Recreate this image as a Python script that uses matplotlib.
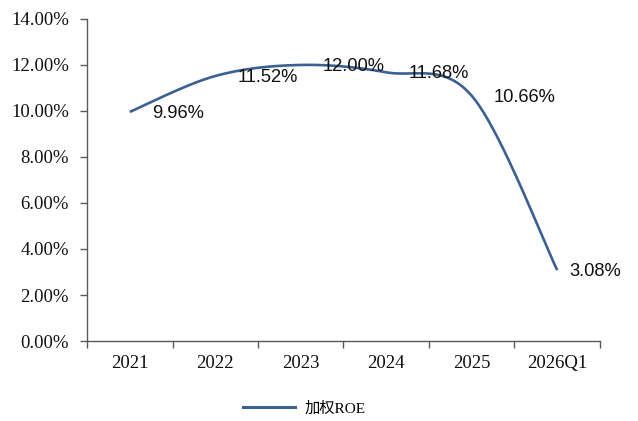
import numpy as np
import matplotlib
matplotlib.use("Agg")
import matplotlib.pyplot as plt
from matplotlib.lines import Line2D

# ====== DATA ======
periods = ["2021", "2022", "2023", "2024", "2025", "2026Q1"]
roe = [9.96, 11.52, 12.00, 11.68, 10.66, 3.08]
series_name = "加权ROE"

LINE_COLOR = "#3B6092"
AXIS_COLOR = "#595959"

# horizontal offset (points) of each value label from its point
label_dx = [16, 16, 16, 16, 16, 8.5]


def smooth_curve(xs, ys, steps=40):
    """Bezier smoothing through every point (Catmull-Rom style control points)."""
    pts = np.column_stack([xs, ys]).astype(float)
    n = len(pts)
    out = [pts[0]]
    t = np.linspace(0, 1, steps)[1:, None]
    for i in range(n - 1):
        p0 = pts[max(i - 1, 0)]
        p1 = pts[i]
        p2 = pts[i + 1]
        p3 = pts[min(i + 2, n - 1)]
        c1 = p1 + (p2 - p0) / 6
        c2 = p2 - (p3 - p1) / 6
        seg = ((1 - t) ** 3) * p1 + 3 * ((1 - t) ** 2) * t * c1 \
            + 3 * (1 - t) * t ** 2 * c2 + t ** 3 * p2
        out.extend(seg)
    out = np.array(out)
    return out[:, 0], out[:, 1]


def main():
    fig = plt.figure(figsize=(6.38, 4.21), dpi=100)
    ax = fig.add_axes([0.1364, 0.190, 0.804, 0.765])

    x = np.arange(len(periods))
    sx, sy = smooth_curve(x, roe)
    ax.plot(sx, sy, color=LINE_COLOR, lw=1.9, solid_capstyle="butt")

    # value labels to the right of each point
    for xi, v, dx in zip(x, roe, label_dx):
        ax.annotate(f"{v:.2f}%", (xi, v), xytext=(dx, -1), textcoords="offset points",
                    ha="left", va="center", fontsize=13.2,
                    family=["Liberation Sans", "DejaVu Sans"], color="#111111")

    ax.set_xlim(-0.5, len(periods) - 0.5)
    ax.set_ylim(0, 14)
    ax.set_yticks(np.arange(0, 14.01, 2))
    ax.set_yticklabels([f"{v:.2f}%" for v in np.arange(0, 14.01, 2)])

    # category boundaries carry the tick marks, names sit between them
    ax.set_xticks(np.arange(-0.5, len(periods), 1))
    ax.set_xticklabels([])
    ax.set_xticks(x, minor=True)
    ax.set_xticklabels(periods, minor=True)
    ax.tick_params(axis="x", which="minor", length=0, pad=10)
    ax.tick_params(axis="x", which="major", length=5, color=AXIS_COLOR, width=1)
    ax.tick_params(axis="y", length=5, color=AXIS_COLOR, width=1, pad=8)

    for lbl in ax.get_xticklabels(minor=True) + ax.get_yticklabels():
        lbl.set_family(["Liberation Serif", "DejaVu Serif"])
        lbl.set_fontsize(13.5)
        lbl.set_color("#111111")

    for side in ("top", "right"):
        ax.spines[side].set_visible(False)
    for side in ("left", "bottom"):
        ax.spines[side].set_color(AXIS_COLOR)
        ax.spines[side].set_linewidth(1)

    handle = Line2D([0], [0], color=LINE_COLOR, lw=2.2)
    fig.legend([handle], [series_name], loc="center", bbox_to_anchor=(0.477, 0.03),
               frameon=False, handlelength=3.4, handletextpad=0.6,
               prop={"family": ["Liberation Serif", "Noto Sans CJK SC"], "size": 11})

    fig.savefig("out.png", dpi=100)
    plt.close(fig)


if __name__ == "__main__":
    main()
